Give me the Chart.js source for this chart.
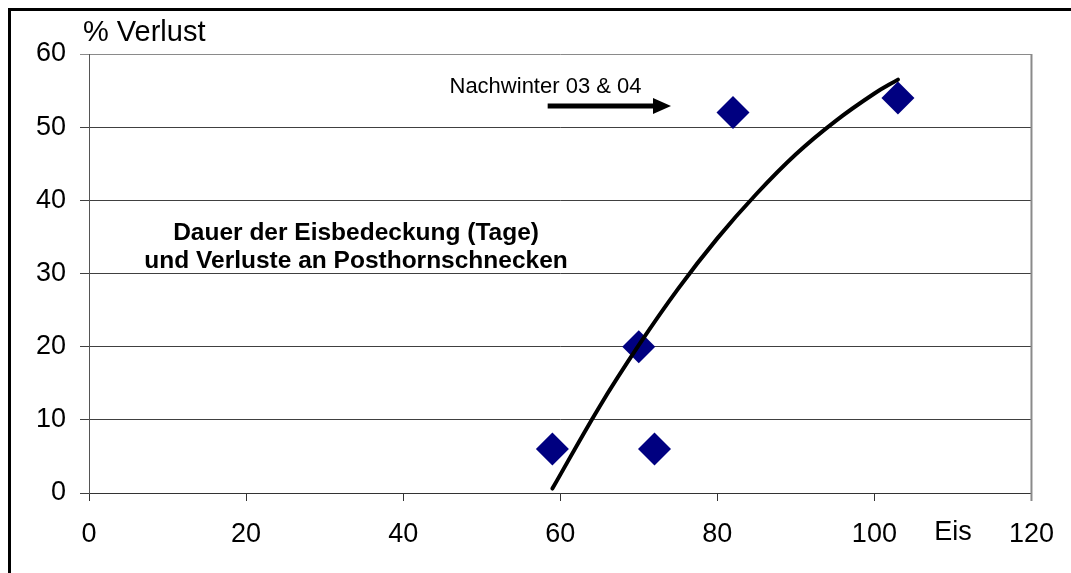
<!DOCTYPE html>
<html>
<head>
<meta charset="utf-8">
<script src="https://cdn.jsdelivr.net/npm/chart.js@4/dist/chart.umd.min.js"></script>
<style>
  body { margin: 0; background: #fff; overflow: hidden; }
  #frame { position: absolute; left: 8px; top: 8px; width: 1200px; height: 700px;
           border-left: 3px solid #000; border-top: 3px solid #000; }
  #chart { position: absolute; left: 0; top: 0; }
</style>
</head>
<body>
<div id="frame"></div>
<canvas id="chart" width="1071" height="573"></canvas>
<script>
// Messwerte: Eistage und Verlust in %
const eisTage = [59, 70, 72, 82, 103];
const verlust = [6, 20, 6, 52, 54];

// Trendlinie (Polynom)
const trendX = [59, 65, 70, 75, 80, 85, 90, 95, 100, 103];
const trendY = [0.6, 11.8, 20.2, 27.9, 34.8, 40.9, 46.3, 50.8, 54.6, 56.5];

// Achsenbeschriftung
const xTicks = [0, 20, 40, 60, 80, 100, 120];
const yTicks = [0, 10, 20, 30, 40, 50, 60];

const punkte = eisTage.map((x, i) => ({ x: x, y: verlust[i] }));
const trend = trendX.map((x, i) => ({ x: x, y: trendY[i] }));

// Texte und Pfeil im Diagramm
const beschriftung = {
    id: "beschriftung",
    afterDatasetsDraw(chart) {
        const ctx = chart.ctx;
        const xs = chart.scales.x;
        const ys = chart.scales.y;
        const area = chart.chartArea;
        ctx.save();
        ctx.fillStyle = "#000";

        // rechter Rand der Zeichenfläche
        ctx.strokeStyle = "#8a8a8a";
        ctx.lineWidth = 2;
        ctx.beginPath();
        ctx.moveTo(area.right, area.top);
        ctx.lineTo(area.right, area.bottom + 8);
        ctx.stroke();

        ctx.font = "29px 'Liberation Sans', Arial, sans-serif";
        ctx.textAlign = "left";
        ctx.textBaseline = "alphabetic";
        ctx.fillText("% Verlust", area.left - 6, area.top - 13);

        ctx.font = "27px 'Liberation Sans', Arial, sans-serif";
        ctx.textAlign = "center";
        ctx.fillText("Eis", xs.getPixelForValue(110), area.bottom + 47);

        ctx.font = "bold 24.5px 'Liberation Sans', Arial, sans-serif";
        ctx.fillText("Dauer der Eisbedeckung (Tage)", xs.getPixelForValue(34), ys.getPixelForValue(34.6));
        ctx.fillText("und Verluste an Posthornschnecken", xs.getPixelForValue(34), ys.getPixelForValue(30.8));

        ctx.font = "22px 'Liberation Sans', Arial, sans-serif";
        ctx.textAlign = "left";
        ctx.fillText("Nachwinter 03 & 04", xs.getPixelForValue(45.9), ys.getPixelForValue(54.7));

        // Pfeil
        const x1 = xs.getPixelForValue(58.4);
        const x2 = xs.getPixelForValue(74.1);
        const y = ys.getPixelForValue(52.9);
        ctx.strokeStyle = "#000";
        ctx.lineWidth = 5;
        ctx.beginPath();
        ctx.moveTo(x1, y);
        ctx.lineTo(x2 - 16, y);
        ctx.stroke();
        ctx.beginPath();
        ctx.moveTo(x2, y);
        ctx.lineTo(x2 - 18, y - 8);
        ctx.lineTo(x2 - 18, y + 8);
        ctx.closePath();
        ctx.fill();
        ctx.restore();
    }
};

new Chart(document.getElementById("chart"), {
    type: "scatter",
    data: {
        datasets: [
            {
                type: "line",
                data: trend,
                borderColor: "#000",
                borderWidth: 4,
                borderCapStyle: "round",
                pointRadius: 0,
                tension: 0.4,
                fill: false,
                order: 0
            },
            {
                data: punkte,
                pointStyle: "rectRot",
                pointRadius: 16.5,
                pointHoverRadius: 16.5,
                backgroundColor: "#000080",
                borderColor: "#000080",
                borderWidth: 0,
                order: 1
            }
        ]
    },
    options: {
        responsive: false,
        animation: false,
        layout: { padding: { left: 0, top: 54, right: 39, bottom: 0 } },
        plugins: { legend: { display: false }, tooltip: { enabled: false } },
        scales: {
            x: {
                type: "linear",
                min: 0,
                max: 120,
                afterBuildTicks: s => { s.ticks = xTicks.map(v => ({ value: v })); },
                afterFit: s => { s.height = 80; },
                grid: { drawOnChartArea: false, drawTicks: true, tickLength: 8, color: "#333" },
                border: { color: "#333", width: 1 },
                ticks: { color: "#000", padding: 17, font: { family: "'Liberation Sans', Arial", size: 27 } }
            },
            y: {
                type: "linear",
                min: 0,
                max: 60,
                afterBuildTicks: s => { s.ticks = yTicks.map(v => ({ value: v })); },
                afterFit: s => { s.width = 89; },
                grid: {
                    tickLength: 9,
                    color: c => (c.tick && c.tick.value === 60 ? "#8a8a8a" : "#404040"),
                    lineWidth: 1
                },
                border: { color: "#555", width: 1 },
                ticks: { color: "#000", padding: 14, font: { family: "'Liberation Sans', Arial", size: 27 } }
            }
        }
    },
    plugins: [beschriftung]
});
</script>
</body>
</html>
